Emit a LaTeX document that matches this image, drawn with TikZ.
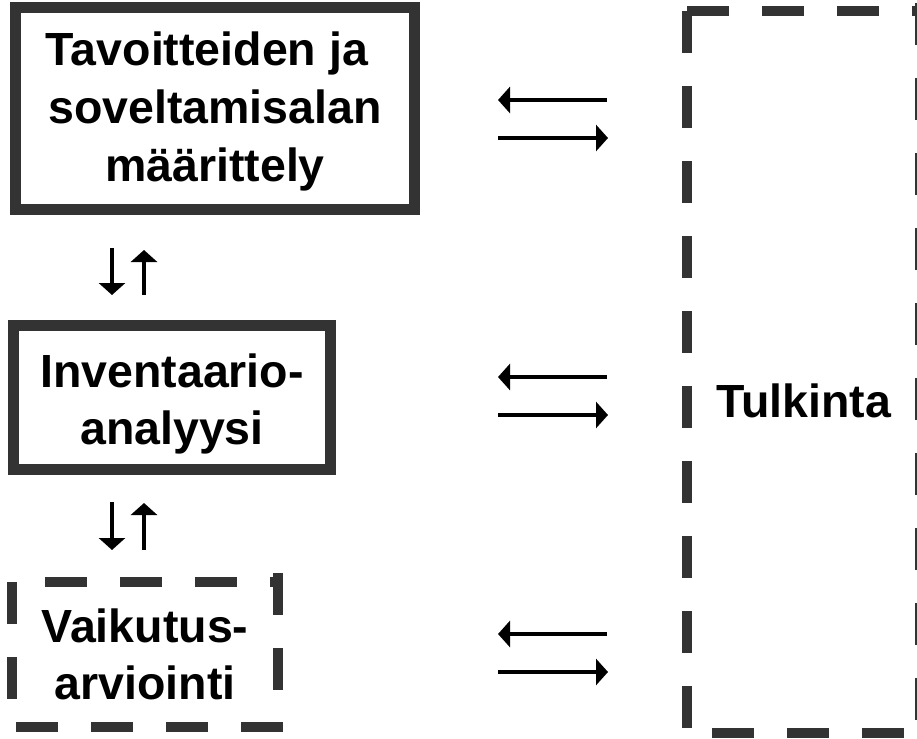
\documentclass[tikz,border=0pt]{standalone}
\usepackage{fontspec}
\setmainfont{Liberation Sans}
\usetikzlibrary{arrows.meta}
\definecolor{frame}{HTML}{333333}
\begin{document}
\begin{tikzpicture}[x=1pt,y=1pt,
  boxtext/.style={inner sep=0pt, align=center, text=black,
    font=\bfseries\fontsize{46.5}{57}\selectfont},
  solidbox/.style={boxtext, draw=frame, line width=11pt},
  dashside/.style={draw=frame, line width=10pt, dash pattern=on 42pt off 33pt},
  flow/.style={line width=4.3pt, -{Triangle[length=12pt,width=26pt]}}]
\useasboundingbox (0,0) rectangle (917,-738);

% boxes
\node[solidbox, minimum width=399pt, minimum height=202pt,
  font=\bfseries\fontsize{46.5}{58}\selectfont] (goal) at (215,-108.5)
  {\rule{0pt}{39pt}Tavoitteiden ja\rule{16pt}{0pt}\\soveltamisalan\\määrittely};
\node[solidbox, minimum width=317pt, minimum height=144pt] (inv) at (172,-397.5)
  {\rule{0pt}{46pt}Inventaario-\\analyysi};
\node[boxtext, minimum width=266pt, minimum height=145pt] (imp) at (145,-654.5)
  {Vaikutus-\\arviointi};
\node[boxtext, minimum width=232.5pt, minimum height=722pt] (tul) at (803.75,-372)
  {\rule{0pt}{91pt}Tulkinta};

% dashed frame of Vaikutusarviointi
\draw[dashside] (imp.north west) -- (imp.south west);
\draw[dashside, dash phase=42pt] (imp.north west) -- (imp.north east);
\draw[dashside] ([yshift=9pt]imp.north east) -- (imp.south east);
\draw[dashside] ([xshift=5pt]imp.south east) -- (imp.south west);

% dashed frame of Tulkinta
\draw[dashside] (tul.north west) -- ([xshift=30pt]tul.north east);
\draw[dashside] (tul.north west) -- (tul.south west);
\draw[dashside] ([xshift=24.5pt]tul.south west) -- ([xshift=10pt]tul.south east);
\draw[dashside] ([yshift=8pt]tul.north east) -- (tul.south east);

% horizontal arrow pairs
\coordinate (h1l) at (498,-100); \coordinate (h1r) at (607,-100);
\coordinate (h2l) at (498,-138); \coordinate (h2r) at (608,-138);
\coordinate (h3l) at (498,-377); \coordinate (h3r) at (607,-377);
\coordinate (h4l) at (498,-415); \coordinate (h4r) at (608,-415);
\coordinate (h5l) at (498,-634); \coordinate (h5r) at (607,-634);
\coordinate (h6l) at (498,-672); \coordinate (h6r) at (608,-672);
\draw[flow] (h1r) -- (h1l);
\draw[flow] (h2l) -- (h2r);
\draw[flow] (h3r) -- (h3l);
\draw[flow] (h4l) -- (h4r);
\draw[flow] (h5r) -- (h5l);
\draw[flow] (h6l) -- (h6r);

% vertical arrow pairs
\coordinate (d1t) at (112,-248); \coordinate (d1b) at (112,-295);
\coordinate (u1t) at (144,-250); \coordinate (u1b) at (144,-295);
\coordinate (d2t) at (112,-502); \coordinate (d2b) at (112,-550);
\coordinate (u2t) at (144,-503); \coordinate (u2b) at (144,-550);
\draw[flow] (d1t) -- (d1b);
\draw[flow] (u1b) -- (u1t);
\draw[flow] (d2t) -- (d2b);
\draw[flow] (u2b) -- (u2t);
\end{tikzpicture}
\end{document}
